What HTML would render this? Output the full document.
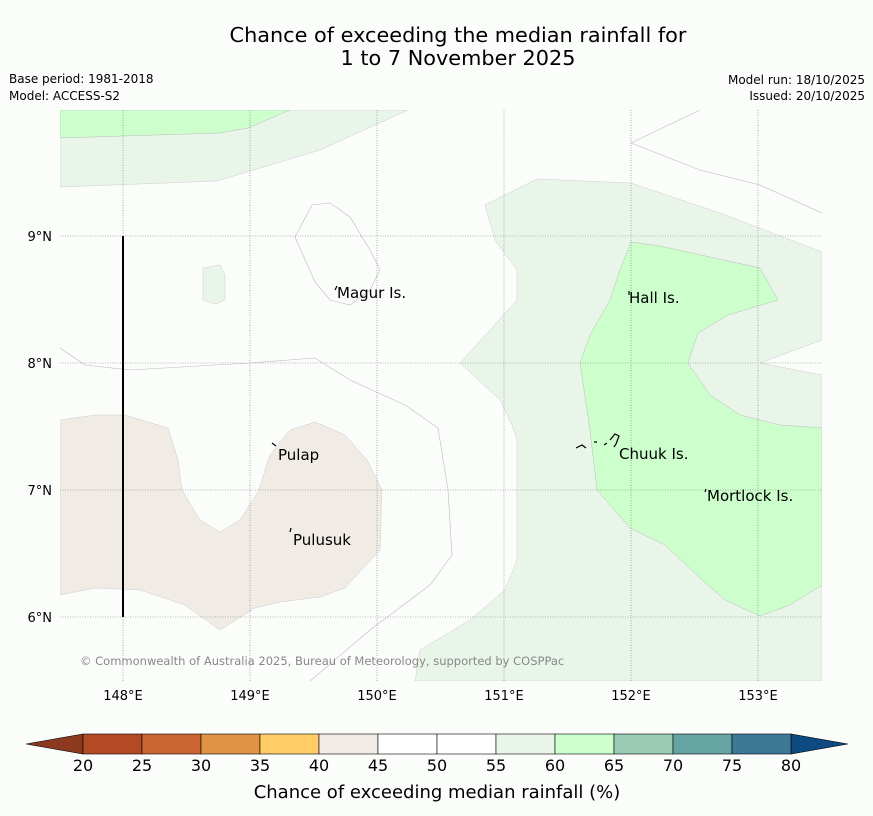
<!DOCTYPE html>
<html><head><meta charset="utf-8"><style>
body{margin:0;background:#fbfdfb;font-family:"Liberation Sans","DejaVu Sans",sans-serif;overflow:hidden;}
svg text{font-family:"DejaVu Sans","Liberation Sans",sans-serif;}
svg{display:block;}
</style></head><body>
<svg width="873" height="816" viewBox="0 0 873 816">
<rect width="873" height="816" fill="#fbfdfb"/>
<text x="458" y="42" text-anchor="middle" font-size="20.8">Chance of exceeding the median rainfall for</text>
<text x="458" y="65" text-anchor="middle" font-size="20.8">1 to 7 November 2025</text>
<text x="9" y="83" font-size="12">Base period: 1981-2018</text>
<text x="9" y="100" font-size="12">Model: ACCESS-S2</text>
<text x="865" y="84" font-size="12" text-anchor="end">Model run: 18/10/2025</text>
<text x="865" y="100" font-size="12" text-anchor="end">Issued: 20/10/2025</text>
<g>
<clipPath id="c"><rect x="60" y="110" width="762" height="571"/></clipPath>
<g clip-path="url(#c)">
<rect x="60" y="110" width="762" height="571" fill="#fbfdfb"/>
<polygon fill="#eaf5ea" stroke="#ccc" stroke-width="0.5" points="485,205 537,179 631,183 720,213 822,252 822,340 760,363 822,375 822,681 415,681 420,650 470,620 505,590 517,560 517,440 512,425 500,400 460,363 490,330 517,300 517,270 495,240"/>
<polygon fill="#ccffcc" stroke="#bbb" stroke-width="0.5" points="631,242 660,246 760,268 778,300 728,315 698,333 688,363 710,395 740,415 780,425 822,428 822,585 790,605 760,616 725,600 700,578 665,545 630,528 597,490 590,430 580,363 590,335 610,300 620,270"/>
<polygon fill="#eaf5ea" stroke="#ccc" stroke-width="0.5" points="60,110 408,110 320,150 217,181 60,187"/>
<polygon fill="#ccffcc" stroke="#bbb" stroke-width="0.5" points="60,110 290,110 248,128 220,133 60,138"/>
<polygon fill="#eaf5ea" stroke="#ccc" stroke-width="0.5" points="203,268 220,265 225,275 225,300 215,304 203,300"/>
<polygon fill="#f0ebe5" stroke="#ccc" stroke-width="0.5" points="60,420 95,415 125,415 168,428 178,460 182,490 200,520 220,532 240,520 258,492 270,455 290,430 315,422 345,435 367,460 382,490 380,550 345,588 320,597 280,602 255,608 220,630 185,605 140,590 95,588 60,595"/>
<polyline fill="none" stroke="#bbb" stroke-width="0.6" points="60,348 85,365 130,370 250,363 315,358 350,380 405,405 438,428 448,490 452,555 430,585 370,630 310,681"/>
<polygon fill="none" stroke="#bbb" stroke-width="0.6" points="295,237 312,205 330,203 350,217 370,250 380,270 370,290 350,305 330,300 315,282"/>
<polyline fill="none" stroke="#bbb" stroke-width="0.6" points="700,110 631,143 700,170 760,185 822,213"/>
</g>
<g stroke="#777" stroke-width="0.6" stroke-dasharray="1,1.5">
<line x1="123" y1="110" x2="123" y2="681"/><line x1="250" y1="110" x2="250" y2="681"/><line x1="377" y1="110" x2="377" y2="681"/><line x1="504" y1="110" x2="504" y2="681"/><line x1="631" y1="110" x2="631" y2="681"/><line x1="758" y1="110" x2="758" y2="681"/>
<line x1="60" y1="236" x2="822" y2="236"/><line x1="60" y1="363" x2="822" y2="363"/><line x1="60" y1="490" x2="822" y2="490"/><line x1="60" y1="617" x2="822" y2="617"/>
</g>
<line x1="123" y1="236" x2="123" y2="617" stroke="#000" stroke-width="2"/>
<g font-size="13">
<text x="52" y="241" text-anchor="end">9°N</text><text x="52" y="368" text-anchor="end">8°N</text><text x="52" y="495" text-anchor="end">7°N</text><text x="52" y="622" text-anchor="end">6°N</text>
</g>
<g font-size="13" text-anchor="middle">
<text x="123" y="700">148°E</text><text x="250" y="700">149°E</text><text x="377" y="700">150°E</text><text x="504" y="700">151°E</text><text x="631" y="700">152°E</text><text x="758" y="700">153°E</text>
</g>
<g font-size="15">
<text x="337" y="298">Magur Is.</text><text x="629" y="303">Hall Is.</text><text x="278" y="460">Pulap</text><text x="293" y="545">Pulusuk</text><text x="619" y="459">Chuuk Is.</text><text x="707" y="501">Mortlock Is.</text>
</g>
<g stroke="#000" stroke-width="1.2" fill="none">
<path d="M335,290 l2,-4"/><path d="M629,295 l0,-4"/><path d="M272,443 l4,3"/><path d="M290,532 l1,-4"/><path d="M705,492 l1,-3"/>
<path d="M576,448 l6,-3 l4,3 M594,442 l3,0 M604,445 l3,-2 M610,440 l5,-6 l4,2 l-3,8 l-2,3"/>
</g>
<text x="80" y="665" font-size="11.5" fill="#888">© Commonwealth of Australia 2025, Bureau of Meteorology, supported by COSPPac</text>
</g>
<g id="cbar"></g>
<text x="437" y="798" text-anchor="middle" font-size="18">Chance of exceeding median rainfall (%)</text>
</svg>
<script>
const tickLabels=[20,25,30,35,40,45,50,55,60,65,70,75,80];
const binColors=["#b34a25","#cc6633","#e09443","#ffcc66","#f0ebe5","#ffffff","#ffffff","#eaf5ea","#ccffcc","#99ccb3","#66a3a3","#3d7896"];
const underColor="#8b3a1e", overColor="#0d4a80";
const ns="http://www.w3.org/2000/svg";
const g=document.getElementById('cbar');
const x0=83,x1=791,y0=734,h=20;
const xs=v=>x0+(v-tickLabels[0])/(tickLabels[tickLabels.length-1]-tickLabels[0])*(x1-x0);
function mk(t,a){const e=document.createElementNS(ns,t);for(const k in a)e.setAttribute(k,a[k]);g.appendChild(e);return e;}
let l=mk('polygon',{points:`26,744 ${x0},${y0} ${x0},${y0+h}`,fill:underColor,stroke:'#000','stroke-width':0.6});


let r=mk('polygon',{points:`848,744 ${x1},${y0} ${x1},${y0+h}`,fill:overColor,stroke:'#000','stroke-width':0.6});


binColors.forEach((c,i)=>{const a=xs(tickLabels[i]),b=xs(tickLabels[i+1]);
const e=mk('rect',{x:a,y:y0,width:b-a,height:h,fill:c,stroke:'#000','stroke-width':0.6});

});
tickLabels.forEach(v=>{const t=mk('text',{x:xs(v),y:771,'text-anchor':'middle','font-size':16});t.textContent=v;

});
</script>
</body></html>
